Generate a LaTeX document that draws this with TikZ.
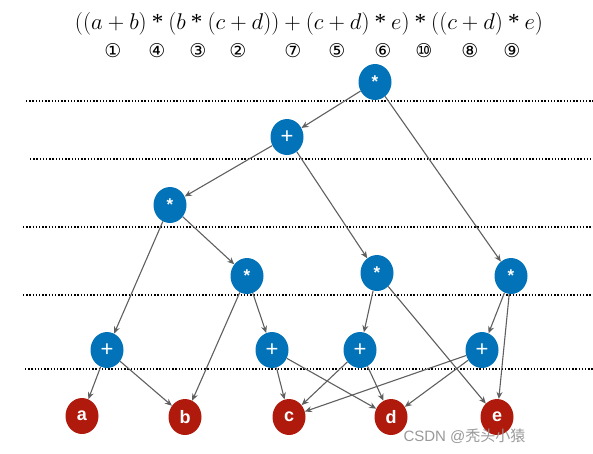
\documentclass[tikz,border=0pt]{standalone}
\usepackage{graphicx}
\usepackage{fontspec}
\setsansfont{Liberation Sans}
\newfontfamily\symfont{DejaVu Sans}
\newfontfamily\tms{Liberation Serif}
\newfontfamily\cjkfont{Noto Sans CJK SC}
\usetikzlibrary{shapes.geometric,arrows.meta}
\definecolor{nodeblue}{HTML}{0373B9}
\definecolor{nodered}{HTML}{B01A0C}
\definecolor{edgegray}{HTML}{5F5F5F}
\newcommand{\tast}{\mathbin{\mbox{\tms\fontsize{21}{21}\selectfont *}}}
\begin{document}
\begin{tikzpicture}[x=1pt,y=-1pt,
  op/.style={ellipse,fill=nodeblue,draw=none,minimum width=33pt,minimum height=36pt,inner sep=0pt,text=white,font=\sffamily\bfseries\fontsize{17}{17}\selectfont},
  plusop/.style={op,font=\sffamily\fontsize{22}{22}\selectfont},
  leaf/.style={ellipse,fill=nodered,draw=none,minimum width=33pt,minimum height=36pt,inner sep=0pt,text=white,font=\sffamily\bfseries\fontsize{18}{18}\selectfont},
  conn/.style={draw=edgegray,line width=1.1pt,-{Stealth[length=7pt,width=6pt]}},
  sep/.style={line width=1.4pt,dash pattern=on 1.4pt off 1.8pt},
  num/.style={font=\symfont\fontsize{19}{19}\selectfont}]
\useasboundingbox (0,0) rectangle (593,453);
% formula
\node[inner sep=0pt] (f) at (309,24) {\resizebox{468pt}{!}{\fontsize{20.74}{25}\selectfont$((a+b)\tast(b\tast(c+d))+(c+d)\tast e)\tast((c+d)\tast e)$}};
\node[num] (n1) at (113,51) {①};
\node[num] (n4) at (157,51) {④};
\node[num] (n3) at (198,51) {③};
\node[num] (n2) at (238,51) {②};
\node[num] (n7) at (293,51) {⑦};
\node[num] (n5) at (337,51) {⑤};
\node[num] (n6) at (383,51) {⑥};
\node[num] (n10) at (424,51) {⑩};
\node[num] (n8) at (470,51) {⑧};
\node[num] (n9) at (512,51) {⑨};
% separators
\coordinate (s1a) at (26,101); \coordinate (s1b) at (593,101);
\coordinate (s2a) at (30,159); \coordinate (s2b) at (593,159);
\coordinate (s3a) at (23,227); \coordinate (s3b) at (593,227);
\coordinate (s4a) at (23,295); \coordinate (s4b) at (593,295);
\coordinate (s5a) at (25,369); \coordinate (s5b) at (593,369);
\draw[sep] (s1a) -- (s1b);
\draw[sep] (s2a) -- (s2b);
\draw[sep] (s3a) -- (s3b);
\draw[sep] (s4a) -- (s4b);
\draw[sep] (s5a) -- (s5b);
% nodes
\node[op] (r) at (375,82) {*};
\node[plusop] (p0) at (287,137) {+};
\node[op] (m1) at (170,205) {*};
\node[op] (m2) at (247,276) {*};
\node[op] (m3) at (377,273) {*};
\node[op] (m4) at (511,276) {*};
\node[plusop] (p1) at (107,350) {+};
\node[plusop] (p2) at (272,350) {+};
\node[plusop] (p3) at (360,350) {+};
\node[plusop] (p4) at (482,350) {+};
\node[leaf] (a) at (82,416) {a};
\node[leaf] (b) at (185,417) {b};
\node[leaf] (c) at (289,417) {c};
\node[leaf] (d) at (391,417) {d};
\node[leaf] (e) at (497,417) {e};
% edges
\draw[conn] (r) -- (p0);
\draw[conn] (r) -- (m4);
\draw[conn] (p0) -- (m1);
\draw[conn] (p0) -- (m3);
\draw[conn] (m1) -- (p1);
\draw[conn] (m1) -- (m2);
\draw[conn] (m2) -- (b);
\draw[conn] (m2) -- (p2);
\draw[conn] (m3) -- (p3);
\draw[conn] (m3) -- (e);
\draw[conn] (m4) -- (p4);
\draw[conn] (m4) -- (e);
\draw[conn] (p1) -- (a);
\draw[conn] (p1) -- (b);
\draw[conn] (p2) -- (c);
\draw[conn] (p2) -- (d);
\draw[conn] (p3) -- (c);
\draw[conn] (p3) -- (d);
\draw[conn] (p4) -- (c);
\draw[conn] (p4) -- (d);
% watermark
\node[text=black!40,font=\sffamily\fontsize{15}{15}\selectfont,anchor=east] (wm) at (529,436) {CSDN @{\cjkfont 秃头小猿}};
\end{tikzpicture}
\end{document}
